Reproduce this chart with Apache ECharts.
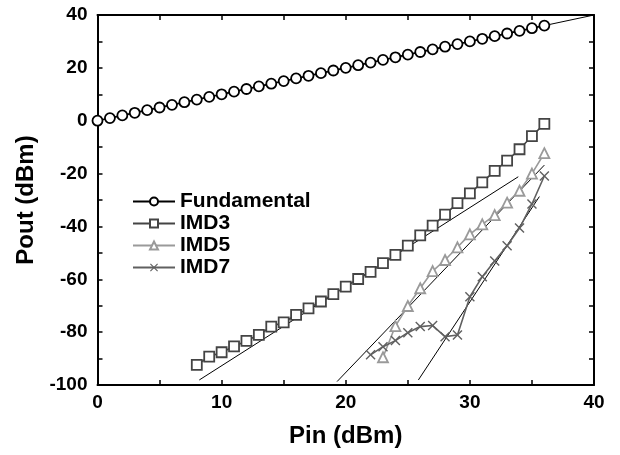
<!DOCTYPE html>
<html>
<head>
<meta charset="utf-8">
<script src="https://cdn.jsdelivr.net/npm/echarts@6/dist/echarts.min.js"></script>
<style>
  html, body { margin: 0; padding: 0; background: #fff; }
  #chart { width: 620px; height: 455px; }
</style>
</head>
<body>
<div id="chart"></div>
<script>
// input power steps (dBm)
const pinFund = [0,1,2,3,4,5,6,7,8,9,10,11,12,13,14,15,16,17,18,19,20,21,22,23,24,25,26,27,28,29,30,31,32,33,34,35,36];
const poutFund = [0,1,2,3,4,5,6,7,8,9,10,11,12,13,14,15,16,17,18,19,20,21,22,23,24,25,26,27,28,29,30,31,32,33,34,35,36];

const pinImd3 = [8,9,10,11,12,13,14,15,16,17,18,19,20,21,22,23,24,25,26,27,28,29,30,31,32,33,34,35,36];
const poutImd3 = [-92.4,-89.3,-87.6,-85.4,-83.3,-81,-77.9,-76.3,-73.5,-71,-68.4,-65.6,-62.8,-59.9,-57.2,-53.9,-50.8,-47.3,-43.4,-39.7,-35.5,-31.2,-27.5,-23.3,-19,-15.1,-10.8,-5.8,-1.2];

const pinImd5 = [23,24,25,26,27,28,29,30,31,32,33,34,35,36];
const poutImd5 = [-89.5,-77.7,-70.1,-63.4,-56.9,-52.7,-47.9,-43,-39.2,-35.7,-31,-26.5,-20,-12.3];

const pinImd7 = [22,23,24,25,26,27,28,29,30,31,32,33,34,35,36];
const poutImd7 = [-88.6,-85.5,-83.2,-80.2,-77.9,-77.5,-81.7,-81.1,-66.6,-59,-53.1,-47.3,-40.6,-31.5,-20.9];

// straight reference lines (slope 1, 3, 5, 7), end points [pin, pout]
const fitFund = [[0, 0], [40, 40]];
const fitImd3 = [[8.2, -98.1], [33.9, -21.2]];
const fitImd5 = [[19.3, -98.7], [36.0, -16.8]];
const fitImd7 = [[25.85, -98.1], [35.6, -28.7]];

const font = "'Liberation Sans', Arial, sans-serif";
const crossPath = "path://M0,2 L2,0 L10,8 L18,0 L20,2 L12,10 L20,18 L18,20 L10,12 L2,20 L0,18 L8,10 Z";

function pairs(xs, ys) {
  return xs.map((x, i) => [x, ys[i]]);
}

function fitSeries(data) {
  return {
    type: "line",
    data: data,
    symbol: "none",
    silent: true,
    z: 1,
    lineStyle: { color: "#000", width: 1 },
  };
}

function axisCommon(extra) {
  return Object.assign({
    type: "value",
    axisLine: { show: true, onZero: false, lineStyle: { color: "#000", width: 2 } },
    axisTick: { show: true, inside: true, length: 5, lineStyle: { color: "#000", width: 1.5 } },
    minorTick: { show: true, splitNumber: 2, length: 5, lineStyle: { color: "#000", width: 1.5 } },
    splitLine: { show: false },
    minorSplitLine: { show: false },
  }, extra);
}

const chart = echarts.init(document.getElementById("chart"));

const option = {
  animation: false,
  backgroundColor: "#fff",
  textStyle: { fontFamily: font },
  grid: { left: 97.5, right: 26, top: 15, bottom: 70 },
  legend: {
    data: ["Fundamental", "IMD3", "IMD5", "IMD7"],
    orient: "vertical",
    left: 132,
    top: 191,
    padding: 0,
    itemWidth: 42,
    itemHeight: 10,
    itemGap: 1,
    textStyle: { fontSize: 21, fontWeight: "bold", color: "#000", fontFamily: font },
  },
  xAxis: [
    axisCommon({
      min: 0, max: 40, interval: 10, position: "bottom",
      axisLabel: { fontSize: 19, fontWeight: "bold", color: "#000", margin: 8, fontFamily: font },
      name: "Pin (dBm)",
      nameLocation: "middle",
      nameGap: 39,
      nameTextStyle: { fontSize: 24, fontWeight: "bold", color: "#000", fontFamily: font },
    }),
    axisCommon({
      min: 0, max: 40, interval: 10, position: "top",
      axisLabel: { show: false },
    }),
  ],
  yAxis: [
    axisCommon({
      min: -100, max: 40, interval: 20, position: "left",
      axisLabel: { fontSize: 19, fontWeight: "bold", color: "#000", margin: 10, fontFamily: font },
      name: "Pout (dBm)",
      nameLocation: "middle",
      nameGap: 56,
      nameTextStyle: { fontSize: 24, fontWeight: "bold", color: "#000", fontFamily: font },
    }),
    axisCommon({
      min: -100, max: 40, interval: 20, position: "right",
      axisLabel: { show: false },
    }),
  ],
  series: [
    fitSeries(fitFund),
    fitSeries(fitImd3),
    fitSeries(fitImd5),
    fitSeries(fitImd7),
    {
      name: "Fundamental",
      type: "line",
      data: pairs(pinFund, poutFund),
      symbol: "circle",
      symbolSize: 10,
      z: 3,
      lineStyle: { color: "#000", width: 1.6 },
      itemStyle: { color: "#fff", borderColor: "#000", borderWidth: 1.8 },
    },
    {
      name: "IMD3",
      type: "line",
      data: pairs(pinImd3, poutImd3),
      symbol: "rect",
      symbolSize: 10,
      z: 3,
      lineStyle: { color: "#444", width: 1.6 },
      itemStyle: { color: "#fff", borderColor: "#444", borderWidth: 1.8 },
    },
    {
      name: "IMD5",
      type: "line",
      data: pairs(pinImd5, poutImd5),
      symbol: "triangle",
      symbolSize: 10,
      z: 3,
      lineStyle: { color: "#9a9a9a", width: 1.6 },
      itemStyle: { color: "#fff", borderColor: "#9a9a9a", borderWidth: 1.8 },
    },
    {
      name: "IMD7",
      type: "line",
      data: pairs(pinImd7, poutImd7),
      symbol: crossPath,
      symbolSize: 10,
      z: 3,
      lineStyle: { color: "#606060", width: 1.6 },
      itemStyle: { color: "#606060", borderWidth: 0 },
    },
  ],
};

chart.setOption(option);
</script>
</body>
</html>
